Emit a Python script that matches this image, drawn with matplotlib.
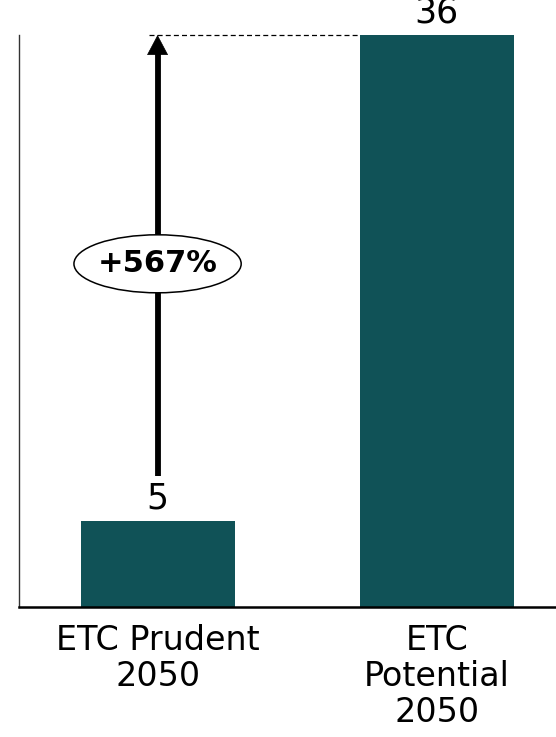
import matplotlib
matplotlib.use("Agg")
import matplotlib.pyplot as plt
from matplotlib.patches import Ellipse

# data
categories = ["ETC Prudent\n2050", "ETC\nPotential\n2050"]
values = [5.4, 36]
value_labels = ["5", "36"]
change_label = "+567%"

bar_color = "#105257"

fig = plt.figure(figsize=(5.56, 7.37), dpi=100)
ax = fig.add_axes([0.0333, 0.1764, 0.9667, 0.9525 - 0.1764])

x = list(range(len(categories)))
bars = ax.bar(x, values, width=0.552, color=bar_color, zorder=2)

ax.set_xlim(-0.498, 1.427)
ax.set_ylim(0, 36)

# value labels on top of bars
for xi, v, lab in zip(x, values, value_labels):
    ax.annotate(lab, xy=(xi, v), xytext=(0, 9), textcoords="offset points",
                ha="center", va="baseline", fontsize=25, color="black",
                annotation_clip=False)

# arrow from small bar up to the big bar's level: shaft + sharp head
arrow_start = 8.25
ax.plot([x[0], x[0]], [arrow_start, values[1] - 0.6], color="black",
        lw=4.2, solid_capstyle="butt", zorder=3)
ax.annotate("", xy=(x[0], values[1]), xytext=(x[0], values[1] - 1.3),
            arrowprops=dict(arrowstyle="-|>,head_width=0.36,head_length=0.68",
                            lw=0.5, color="black", shrinkA=0, shrinkB=0,
                            mutation_scale=20),
            zorder=3)

# dashed guide line at the top
ax.plot([x[0] - 0.032, x[1] - 0.276], [values[1], values[1]],
        color="black", lw=0.9, ls=(0, (4, 2.5)), zorder=1, clip_on=False)

# ellipse with percentage change
ell = Ellipse((x[0], 21.6), width=0.599, height=3.65, facecolor="white",
              edgecolor="black", lw=1.1, zorder=4)
ax.add_patch(ell)
ax.text(x[0], 21.6, change_label, ha="center", va="center", fontsize=22,
        fontweight="bold", zorder=5)

ax.set_xticks(x)
ax.set_xticklabels(categories, fontsize=24, linespacing=1.12)
ax.tick_params(axis="x", length=0, pad=12)
ax.set_yticks([])

ax.spines["top"].set_visible(False)
ax.spines["right"].set_visible(False)
ax.spines["left"].set_color("#333333")
ax.spines["left"].set_linewidth(1.0)
ax.spines["bottom"].set_linewidth(1.8)
ax.spines["bottom"].set_zorder(3)

fig.savefig("out.png", dpi=100)
